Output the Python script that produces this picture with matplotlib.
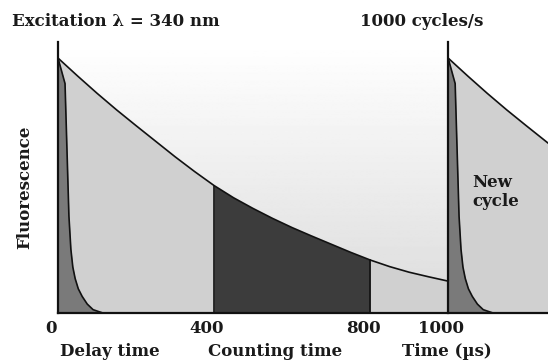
import numpy as np
import matplotlib
matplotlib.use("Agg")
import matplotlib.pyplot as plt
from matplotlib.transforms import ScaledTranslation

# Long-lived fluorescence, time in us, relative intensity
long_t = [0, 50, 100, 150, 200, 250, 300, 350, 400, 450, 500,
          550, 600, 650, 700, 750, 800, 850, 900, 950, 1000]
long_f = [1.0, 0.93, 0.862, 0.797, 0.735, 0.674, 0.613, 0.555, 0.5, 0.452, 0.41,
          0.371, 0.335, 0.302, 0.27, 0.238, 0.208, 0.182, 0.16, 0.142, 0.125]

# Short-lived background fluorescence
short_t = [0, 18, 23, 28, 33, 38, 44, 52, 62, 75, 90, 115]
short_f = [1.0, 0.90, 0.64, 0.38, 0.25, 0.18, 0.135, 0.095, 0.065, 0.035, 0.013, 0.0]

# Timing
cycle = 1000
gate_start, gate_end = 400, 800
tick_pos = [0, 400, 800, 1000]
tick_lab = ["0", "400", "800", "1000"]

W, H = 548, 362
fig = plt.figure(figsize=(W / 100, H / 100), dpi=100)
ax = fig.add_axes([58 / W, (H - 313) / H, 490 / W, 271 / H])
ymax = 1.063
ax.set_xlim(0, 1256)
ax.set_ylim(0, ymax)

serif = "DejaVu Serif"
fs = 12
txt = dict(family=serif, weight="bold", color="#1a1a1a", size=fs)

# background gradient for first cycle
grad = np.linspace(0.86, 1.0, 256).reshape(-1, 1)
ax.imshow(grad, extent=[0, cycle, 0, ymax], origin="lower", cmap="gray",
          vmin=0, vmax=1, aspect="auto", zorder=0)

lt = np.array(long_t)
lf = np.array(long_f)
st = np.array(short_t)
sf = np.array(short_f)

for off in [0, cycle]:
    # light gray area under long decay
    ax.fill_between(lt + off, lf, color="#d0d0d0", lw=0, zorder=1)
    # short decay
    ax.fill_between(st + off, sf, color="#7a7a7a", lw=0, zorder=3)
    ax.plot(st + off, sf, color="#111111", lw=1.2, zorder=4)
    ax.plot(lt + off, lf, color="#111111", lw=1.2, zorder=4)
    # excitation pulse
    ax.plot([off, off], [0, ymax], color="#111111", lw=1.6, zorder=5, clip_on=False)

# counting window
m = (lt >= gate_start) & (lt <= gate_end)
ax.fill_between(lt[m], lf[m], color="#3c3c3c", lw=0, zorder=2)
for g in [gate_start, gate_end]:
    ax.plot([g, g], [0, lf[lt == g][0]], color="#111111", lw=1.2, zorder=4)

for s in ["top", "right", "left"]:
    ax.spines[s].set_visible(False)
ax.spines["bottom"].set_linewidth(1.6)
ax.spines["bottom"].set_color("#111111")
ax.spines["bottom"].set_zorder(6)
ax.set_yticks([])
ax.set_xticks(tick_pos)
ax.set_xticklabels(tick_lab, fontdict=dict(family=serif, weight="bold", size=fs))
ax.tick_params(axis="x", length=0, pad=5, colors="#1a1a1a")
for lab in ax.get_xticklabels():
    lab.set_transform(lab.get_transform() + ScaledTranslation(-0.07, 0, fig.dpi_scale_trans))

fig.text(12 / W, 1 - 22 / H, "Excitation λ = 340 nm", ha="left", va="center", **txt)
fig.text(422 / W, 1 - 22 / H, "1000 cycles/s", ha="center", va="center", **txt)
fig.text(25 / W, 1 - 187 / H, "Fluorescence", ha="center", va="center", rotation=90, **txt)
fig.text(110 / W, 1 - 352 / H, "Delay time", ha="center", va="center", **txt)
fig.text(275 / W, 1 - 352 / H, "Counting time", ha="center", va="center", **txt)
fig.text(447 / W, 1 - 352 / H, "Time (µs)", ha="center", va="center", **txt)
fig.text(472 / W, 1 - 192 / H, "New\ncycle", ha="left", va="center",
         linespacing=1.15, **txt)

fig.savefig("out.png", dpi=100)
